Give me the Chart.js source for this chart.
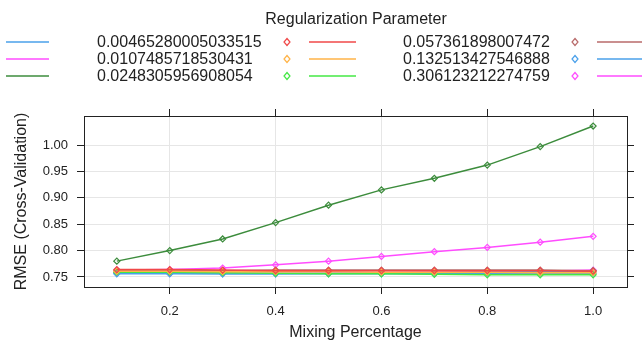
<!DOCTYPE html>
<html>
<head>
<meta charset="utf-8">
<script src="https://cdn.jsdelivr.net/npm/chart.js@4"></script>
<style>
  html, body { margin: 0; padding: 0; background: #fff; }
  #wrap { position: relative; width: 642px; height: 347px; }
</style>
</head>
<body>
<div id="wrap"><canvas id="grafica"></canvas></div>
<script>
// mixing percentage (alpha) on the x axis
const mixing = [0.1, 0.2, 0.3, 0.4, 0.5, 0.6, 0.7, 0.8, 0.9, 1.0];

// regularization parameter values shown in the key
const lambdas = [
  "0.00465280005033515", "0.0107485718530431", "0.0248305956908054",
  "0.057361898007472", "0.132513427546888", "0.306123212274759"
];

// RMSE per lambda
const rmse1 = [0.764, 0.764, 0.763, 0.762, 0.762, 0.762, 0.762, 0.762, 0.762, 0.761];
const rmse2 = [0.761, 0.761, 0.760, 0.760, 0.760, 0.759, 0.759, 0.759, 0.758, 0.758];
const rmse3 = [0.759, 0.759, 0.758, 0.757, 0.756, 0.756, 0.755, 0.754, 0.754, 0.754];
const rmse4 = [0.762, 0.762, 0.762, 0.763, 0.763, 0.763, 0.763, 0.763, 0.763, 0.762];
const rmse5 = [0.756, 0.756, 0.756, 0.756, 0.757, 0.757, 0.758, 0.759, 0.760, 0.762];
const rmse6 = [0.758, 0.757, 0.757, 0.757, 0.757, 0.758, 0.759, 0.760, 0.761, 0.763];
// lines that only show in the cut-off part of the key
const rmse7 = [0.757, 0.757, 0.756, 0.756, 0.756, 0.756, 0.756, 0.757, 0.757, 0.757];
const rmse8 = [0.763, 0.764, 0.767, 0.773, 0.780, 0.789, 0.798, 0.806, 0.816, 0.827];
const rmse9 = [0.780, 0.800, 0.822, 0.853, 0.886, 0.915, 0.937, 0.962, 0.997, 1.036];

const yTicks = [0.75, 0.80, 0.85, 0.90, 0.95, 1.00];
const xTicks = [0.2, 0.4, 0.6, 0.8, 1.0];

const colores = ["#f04848", "#ffb347", "#44e844", "#b86a6a", "#4aa0ea", "#ff4cff", "#4aa0ea", "#ff4cff", "#3c8c3c"];
const series = [rmse1, rmse2, rmse3, rmse4, rmse5, rmse6, rmse7, rmse8, rmse9];

const FUENTE = "'Liberation Sans', Arial, sans-serif";

// key drawn on the canvas, laid out like the lattice key
const leyenda = {
  id: "leyenda",
  afterDraw(chart) {
    const ctx = chart.ctx;
    ctx.save();
    ctx.fillStyle = "#222";
    ctx.font = "16px " + FUENTE;
    ctx.textBaseline = "middle";
    ctx.textAlign = "center";
    ctx.fillText("Regularization Parameter", 356, 20);
    ctx.textAlign = "left";
    const filas = [42, 59, 76];
    const diamante = (x, y, color) => {
      ctx.strokeStyle = color;
      ctx.lineWidth = 1.2;
      ctx.beginPath();
      ctx.moveTo(x, y - 3.5); ctx.lineTo(x + 3, y); ctx.lineTo(x, y + 3.5); ctx.lineTo(x - 3, y);
      ctx.closePath();
      ctx.stroke();
    };
    const linea = (x1, x2, y, color) => {
      ctx.strokeStyle = color;
      ctx.lineWidth = 1.5;
      ctx.beginPath(); ctx.moveTo(x1, y); ctx.lineTo(x2, y); ctx.stroke();
    };
    filas.forEach((y, i) => {
      linea(6, 49, y, colores[6 + i]);
      ctx.fillStyle = "#222";
      ctx.fillText(lambdas[i], 97, y + 1);
      diamante(287, y, colores[i]);
      linea(309, 356, y, colores[i]);
      ctx.fillStyle = "#222";
      ctx.fillText(lambdas[i + 3], 403, y + 1);
      diamante(575, y, colores[i + 3]);
      linea(597, 642, y, colores[i + 3]);
    });
    ctx.restore();
  }
};

const datasets = series.map((datos, i) => ({
  label: lambdas[i] || "",
  data: mixing.map((m, j) => ({ x: m, y: datos[j] })),
  borderColor: colores[i],
  backgroundColor: "rgba(0,0,0,0)",
  borderWidth: 1.5,
  pointStyle: "rectRot",
  pointRadius: 3,
  pointBorderWidth: 1.2,
  tension: 0
}));

const ejeMarco = {
  type: "linear",
  border: { display: true, color: "#222", width: 1 },
  ticks: { callback: () => "" },
  grid: { drawOnChartArea: false, tickLength: 7, tickColor: "#222" }
};

new Chart(document.getElementById("grafica"), {
  type: "line",
  data: { datasets },
  plugins: [leyenda],
  options: {
    responsive: true,
    maintainAspectRatio: false,
    animation: false,
    layout: { padding: { top: 109, right: 8, left: 0, bottom: 0 } },
    plugins: { legend: { display: false }, tooltip: { enabled: false } },
    scales: {
      x: {
        type: "linear",
        min: 0.038, max: 1.064,
        afterBuildTicks: s => { s.ticks = xTicks.map(v => ({ value: v })); },
        afterFit: s => { s.height = 60; },
        border: { color: "#222" },
        grid: { color: "#e6e6e6", tickColor: "#222", tickLength: 7 },
        ticks: { color: "#222", font: { family: FUENTE, size: 13 }, padding: 10, maxRotation: 0,
                 callback: v => v.toFixed(1) },
        title: { display: true, text: "Mixing Percentage", color: "#222",
                 font: { family: FUENTE, size: 16 }, padding: 5 }
      },
      y: {
        type: "linear",
        min: 0.731, max: 1.055,
        afterBuildTicks: s => { s.ticks = yTicks.map(v => ({ value: v })); },
        afterFit: s => { s.width = 84; },
        border: { color: "#222" },
        grid: { color: "#e6e6e6", tickColor: "#222", tickLength: 7 },
        ticks: { color: "#222", font: { family: FUENTE, size: 13 }, padding: 9,
                 callback: v => v.toFixed(2) },
        title: { display: true, text: "RMSE (Cross-Validation)", color: "#222",
                 font: { family: FUENTE, size: 16 }, padding: 12 }
      },
      xArriba: Object.assign({}, ejeMarco, {
        position: "top", min: 0.038, max: 1.064,
        afterBuildTicks: s => { s.ticks = xTicks.map(v => ({ value: v })); },
        afterFit: s => { s.height = 7; }
      }),
      yDerecha: Object.assign({}, ejeMarco, {
        position: "right", min: 0.731, max: 1.055,
        afterBuildTicks: s => { s.ticks = yTicks.map(v => ({ value: v })); },
        afterFit: s => { s.width = 7; }
      })
    }
  }
});
</script>
</body>
</html>
